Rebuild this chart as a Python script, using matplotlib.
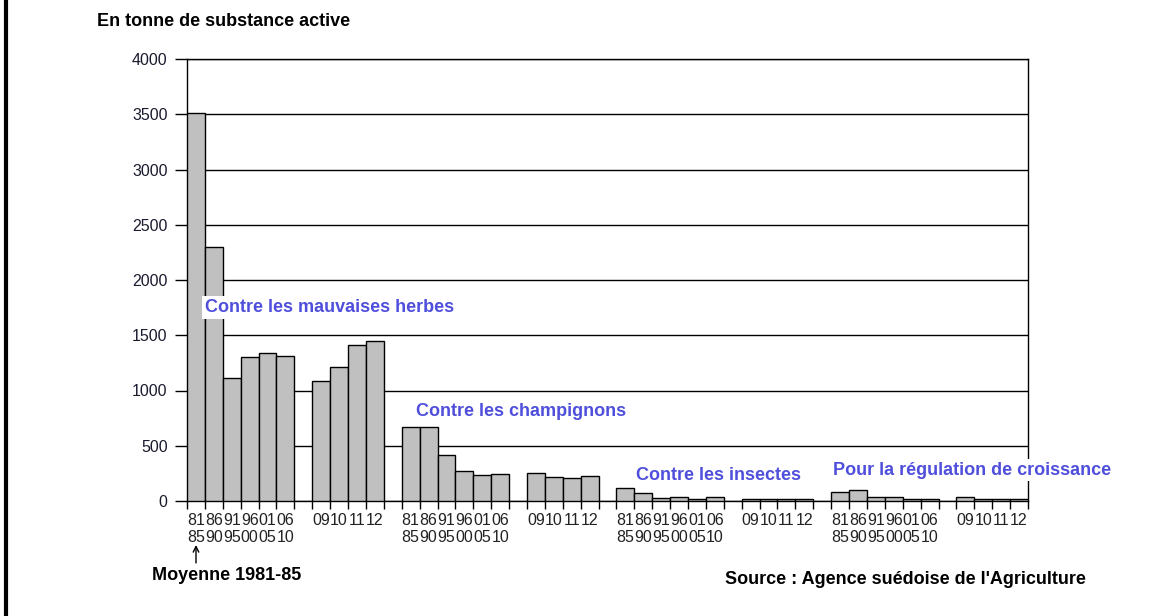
import numpy as np
import matplotlib.pyplot as plt
from matplotlib.lines import Line2D

plt.rcParams['font.family'] = ['Liberation Sans', 'DejaVu Sans']

# Tonnes de substance active, par période
periodes_longues = ['81\n85', '86\n90', '91\n95', '96\n00', '01\n05', '06\n10']
annees = ['09', '10', '11', '12']

herbes_moy = [3510, 2300, 1115, 1300, 1338, 1312]
herbes_an = [1088, 1212, 1412, 1448]
champ_moy = [667, 667, 419, 271, 235, 247]
champ_an = [250, 220, 207, 222]
insect_moy = [122, 71, 23, 40, 22, 37]
insect_an = [21, 21, 21, 21]
regul_moy = [83, 97, 36, 36, 19, 19]
regul_an = [39, 20, 20, 20]

groupes = [herbes_moy, herbes_an, champ_moy, champ_an,
           insect_moy, insect_an, regul_moy, regul_an]
etiquettes = [periodes_longues, annees] * 4

W, H = 1174, 616
fig = plt.figure(figsize=(W / 100, H / 100), dpi=100)
ax = fig.add_axes([187 / W, 1 - 501 / H, (1028 - 187) / W, (501 - 59) / H])

# une case vide entre chaque groupe de barres
debut = 0
centres, labels, bords = [], [], []
for vals, labs in zip(groupes, etiquettes):
    x = debut + np.arange(len(vals))
    ax.bar(x, vals, width=1, align='edge', color='#c0c0c0',
           edgecolor='black', linewidth=1, zorder=3)
    centres += list(x + 0.5)
    labels += labs
    bords += list(debut + np.arange(len(vals) + 1))
    debut += len(vals) + 1

ax.set_xlim(0, debut - 1)
ax.set_ylim(0, 4000)
ax.set_yticks(np.arange(0, 4001, 500))
ax.yaxis.grid(True, color='black', linewidth=1, zorder=0)
ax.set_axisbelow(True)

ax.set_xticks(centres)
ax.set_xticklabels(labels, fontsize=11.5, color='#222222', linespacing=1.15,
                   va='top')
ax.tick_params(axis='x', which='major', length=0, pad=8.5)
ax.set_xticks(bords, minor=True)
ax.tick_params(axis='x', which='minor', length=6, width=1, direction='out')
ax.tick_params(axis='y', length=9, width=1, labelsize=11.5,
               labelcolor='#1a1a2e', pad=5)

for s in ax.spines.values():
    s.set_color('black')
    s.set_linewidth(1)

bleu = '#4f4fdc'
boite = dict(facecolor='white', edgecolor='none', pad=2)
ax.text(1.0, 1750, 'Contre les mauvaises herbes', color=bleu, fontsize=13,
        fontweight='bold', va='center', ha='left', bbox=boite, zorder=5)
ax.text(12.8, 810, 'Contre les champignons', color=bleu, fontsize=13,
        fontweight='bold', va='center', ha='left', bbox=boite, zorder=5)
ax.text(25.1, 235, 'Contre les insectes', color=bleu, fontsize=13,
        fontweight='bold', va='center', ha='left', bbox=boite, zorder=5)
ax.text(36.1, 280, 'Pour la régulation de croissance', color=bleu,
        fontsize=13, fontweight='bold', va='center', ha='left', bbox=boite,
        zorder=5, clip_on=False)

fig.text(97 / W, 1 - 21 / H, 'En tonne de substance active', fontsize=13,
         fontweight='bold', va='center', ha='left')
fig.text(152 / W, 1 - 575 / H, 'Moyenne 1981-85', fontsize=13,
         fontweight='bold', va='center', ha='left')
fig.text(725 / W, 1 - 579 / H, "Source : Agence suédoise de l'Agriculture",
         fontsize=13, fontweight='bold', va='center', ha='left')

# flèche vers la première moyenne
ax.annotate('', xy=(196 / W, 1 - 545 / H), xytext=(196 / W, 1 - 563 / H),
            xycoords='figure fraction', textcoords='figure fraction',
            arrowprops=dict(arrowstyle='->', color='black', lw=1,
                            shrinkA=0, shrinkB=0))

fig.add_artist(Line2D([6 / W, 6 / W], [0, 1], color='black', linewidth=3))

fig.savefig('out.png', dpi=100, facecolor='white')
